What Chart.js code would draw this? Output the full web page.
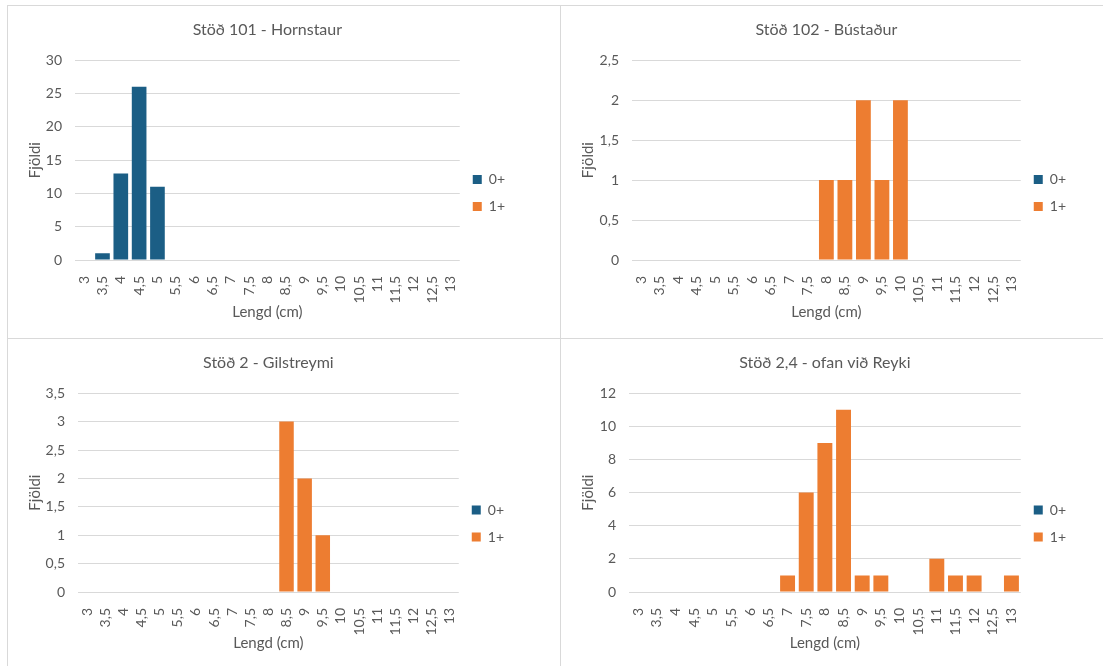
<!DOCTYPE html>
<html>
<head>
<meta charset="utf-8">
<title>Lengdardreifing</title>
<script src="https://cdn.jsdelivr.net/npm/chart.js@4.4.1/dist/chart.umd.min.js"></script>
<style>
  body { margin: 0; background: #fff; }
  #wrap { position: relative; width: 1103px; height: 666px; overflow: hidden; background: #fff; }
  .panel { position: absolute; border-left: 1px solid #d9d9d9; border-top: 1px solid #d9d9d9; }
  canvas { display: block; }
</style>
</head>
<body>
<div id="wrap">
  <div class="panel" style="left:7px;top:5px;"><canvas id="c1" width="552" height="332"></canvas></div>
  <div class="panel" style="left:560px;top:5px;"><canvas id="c2" width="542" height="332"></canvas></div>
  <div class="panel" style="left:7px;top:338px;"><canvas id="c3" width="552" height="327"></canvas></div>
  <div class="panel" style="left:560px;top:338px;"><canvas id="c4" width="542" height="327"></canvas></div>
</div>
<script>
// ===== gögn =====
const lengdir = ["3","3,5","4","4,5","5","5,5","6","6,5","7","7,5","8","8,5","9","9,5","10","10,5","11","11,5","12","12,5","13"];

const hornstaur0 = [0,1,13,26,11,0,0,0,0,0,0,0,0,0,0,0,0,0,0,0,0];
const hornstaur1 = [0,0,0,0,0,0,0,0,0,0,0,0,0,0,0,0,0,0,0,0,0];

const bustadur0 = [0,0,0,0,0,0,0,0,0,0,0,0,0,0,0,0,0,0,0,0,0];
const bustadur1 = [0,0,0,0,0,0,0,0,0,0,1,1,2,1,2,0,0,0,0,0,0];

const gilstreymi0 = [0,0,0,0,0,0,0,0,0,0,0,0,0,0,0,0,0,0,0,0,0];
const gilstreymi1 = [0,0,0,0,0,0,0,0,0,0,0,3,2,1,0,0,0,0,0,0,0];

const reyki0 = [0,0,0,0,0,0,0,0,0,0,0,0,0,0,0,0,0,0,0,0,0];
const reyki1 = [0,0,0,0,0,0,0,0,1,6,9,11,1,1,0,0,2,1,1,0,1];

const titlar = ["Stöð 101 - Hornstaur", "Stöð 102 - Bústaður", "Stöð 2 - Gilstreymi", "Stöð 2,4 - ofan við Reyki"];
const yMax = [30, 2.5, 3.5, 12];
const yStep = [5, 0.5, 0.5, 2];

// ===== útlit hvers reits =====
const vinstriAs = [52, 56, 55, 53];   // breidd y-áss
const haegriBil = [45, 27, 46, 27];   // bil hægra megin við skýringu
const botnGraf = [254, 254, 253, 253]; // neðri brún teiknisvæðis
const titilBotn = [17, 17, 14, 14];

const LITUR_0 = "#1b5e85";
const LITUR_1 = "#ed7d31";
const TEXTI = "#595959";
const LETUR = "Lato, 'Liberation Sans', sans-serif";

function kommu(v) {
  return String(v).replace(".", ",");
}

function teikna(id, i, gogn0, gogn1) {
  const ctx = document.getElementById(id).getContext("2d");
  const hae = ctx.canvas.height;
  return new Chart(ctx, {
    type: "bar",
    data: {
      labels: lengdir,
      datasets: [
        { label: "0+", data: gogn0, backgroundColor: LITUR_0, barPercentage: 0.8, categoryPercentage: 1 },
        { label: "1+", data: gogn1, backgroundColor: LITUR_1, barPercentage: 0.8, categoryPercentage: 1 }
      ]
    },
    options: {
      responsive: false,
      animation: false,
      devicePixelRatio: 1,
      layout: { padding: { left: 15, right: haegriBil[i], top: 0, bottom: 0 } },
      plugins: {
        title: {
          display: true,
          text: titlar[i],
          color: TEXTI,
          fullSize: false,
          font: { family: LETUR, size: 16, weight: "normal" },
          padding: { top: 14, bottom: 21 }
        },
        legend: {
          position: "right",
          title: { display: true, text: " ", font: { size: 10, lineHeight: 1 }, padding: { top: 0, bottom: 32 } },
          labels: {
            boxWidth: 9,
            boxHeight: 9,
            padding: 13,
            color: TEXTI,
            font: { family: LETUR, size: 14 }
          }
        },
        tooltip: { enabled: false }
      },
      scales: {
        x: {
          stacked: true,
          grid: { display: false },
          border: { display: false },
          ticks: {
            color: TEXTI,
            font: { family: LETUR, size: 14 },
            minRotation: 90,
            maxRotation: 90,
            autoSkip: false,
            padding: 8
          },
          title: {
            display: true,
            text: "Lengd (cm)",
            color: TEXTI,
            font: { family: LETUR, size: 15 },
            padding: { top: 4, bottom: titilBotn[i] }
          },
          afterFit: s => { s.height = hae - botnGraf[i]; }
        },
        y: {
          stacked: true,
          min: 0,
          max: yMax[i],
          grid: { color: "#d9d9d9", lineWidth: 1, drawTicks: false },
          border: { display: false },
          ticks: {
            stepSize: yStep[i],
            color: TEXTI,
            font: { family: LETUR, size: 14 },
            padding: 13,
            callback: v => kommu(v)
          },
          title: {
            display: true,
            text: "Fjöldi",
            color: TEXTI,
            font: { family: LETUR, size: 15 },
            padding: 3
          },
          afterFit: s => { s.width = vinstriAs[i]; }
        }
      }
    }
  });
}

teikna("c1", 0, hornstaur0, hornstaur1);
teikna("c2", 1, bustadur0, bustadur1);
teikna("c3", 2, gilstreymi0, gilstreymi1);
teikna("c4", 3, reyki0, reyki1);
</script>
</body>
</html>
